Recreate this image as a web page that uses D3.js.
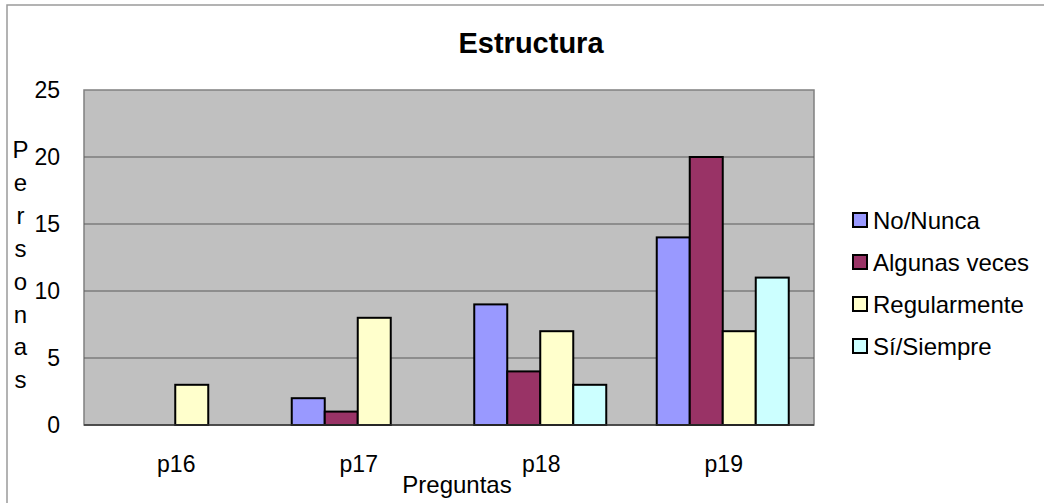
<!DOCTYPE html>
<html>
<head>
<meta charset="utf-8">
<script src="https://cdn.jsdelivr.net/npm/d3@7"></script>
<style>
  html, body { margin: 0; padding: 0; background: #fff; }
  svg { display: block; font-family: "Liberation Sans", Arial, sans-serif; }
</style>
</head>
<body>
<svg id="chart" width="1044" height="503"></svg>
<script>
const categories = ["p16", "p17", "p18", "p19"];
const seriesNames = ["No/Nunca", "Algunas veces", "Regularmente", "Sí/Siempre"];
const noNunca = [0, 2, 9, 14];
const algunasVeces = [0, 1, 4, 20];
const regularmente = [3, 8, 7, 7];
const siSiempre = [0, 0, 3, 11];
const yTicks = [0, 5, 10, 15, 20, 25];
const colors = ["#9999FF", "#993366", "#FFFFCC", "#CCFFFF"];
const chartTitle = "Estructura";
const xTitle = "Preguntas";
const yTitle = "Personas";

const seriesValues = [noNunca, algunasVeces, regularmente, siSiempre];

const svg = d3.select("#chart");

// outer chart border
svg.append("rect").attr("x", 7).attr("y", 5).attr("width", 1100).attr("height", 600)
  .attr("fill", "#fff").attr("stroke", "#9a9a9a").attr("stroke-width", 1.5);

const plot = { left: 84, right: 814, top: 90, bottom: 425 };

const x0 = d3.scaleBand().domain(categories).range([plot.left, plot.right]).padding(0);
const x1 = d3.scaleBand().domain(seriesNames).range([0, x0.bandwidth()]).paddingInner(0).paddingOuter(0.765);
const y = d3.scaleLinear().domain([0, 25]).range([plot.bottom, plot.top]);

// plot background
svg.append("rect").attr("x", plot.left).attr("y", plot.top)
  .attr("width", plot.right - plot.left).attr("height", plot.bottom - plot.top)
  .attr("fill", "#C0C0C0").attr("stroke", "#808080").attr("stroke-width", 1.5);

// gridlines
svg.append("g").selectAll("line").data(yTicks.filter(d => d > 0 && d < 25)).join("line")
  .attr("x1", plot.left).attr("x2", plot.right)
  .attr("y1", d => y(d)).attr("y2", d => y(d))
  .attr("stroke", "#5a5a5a").attr("stroke-width", 1.2);

// bars
const barData = [];
categories.forEach((c, i) => {
  seriesNames.forEach((s, j) => {
    barData.push({ cat: c, ser: s, val: seriesValues[j][i], color: colors[j] });
  });
});
svg.append("g").selectAll("rect").data(barData.filter(d => d.val > 0)).join("rect")
  .attr("x", d => x0(d.cat) + x1(d.ser))
  .attr("y", d => y(d.val))
  .attr("width", x1.bandwidth())
  .attr("height", d => y(0) - y(d.val))
  .attr("fill", d => d.color)
  .attr("stroke", "#000").attr("stroke-width", 2);

// bottom axis line
svg.append("line").attr("x1", plot.left).attr("x2", plot.right)
  .attr("y1", plot.bottom).attr("y2", plot.bottom)
  .attr("stroke", "#333").attr("stroke-width", 1.5);

// y tick labels
svg.append("g").selectAll("text").data(yTicks).join("text")
  .attr("x", 60).attr("y", d => y(d) + 8)
  .attr("text-anchor", "end").attr("font-size", 23).attr("fill", "#000")
  .text(d => d);

// x tick labels
svg.append("g").selectAll("text").data(categories).join("text")
  .attr("x", d => x0(d) + x0.bandwidth() / 2 + 1).attr("y", 472)
  .attr("text-anchor", "middle").attr("font-size", 23).attr("fill", "#000")
  .text(d => d);

// title
svg.append("text").attr("x", 531).attr("y", 53).attr("text-anchor", "middle")
  .attr("font-size", 29).attr("font-weight", "bold").text(chartTitle);

// x title
svg.append("text").attr("x", 457).attr("y", 493).attr("text-anchor", "middle")
  .attr("font-size", 24).text(xTitle);

// y title stacked
svg.append("g").selectAll("text").data(yTitle.split("")).join("text")
  .attr("x", 20.5).attr("y", (d, i) => 158 + i * 32.9)
  .attr("text-anchor", "middle").attr("font-size", 24).text(d => d);

// legend
const leg = svg.append("g").selectAll("g").data(seriesNames).join("g")
  .attr("transform", (d, i) => `translate(853, ${220 + i * 42})`);
leg.append("rect").attr("x", 0).attr("y", -7).attr("width", 14).attr("height", 14)
  .attr("fill", (d, i) => colors[i]).attr("stroke", "#000").attr("stroke-width", 2);
leg.append("text").attr("x", 20).attr("y", 8.5).attr("font-size", 24).text(d => d);
</script>
</body>
</html>
